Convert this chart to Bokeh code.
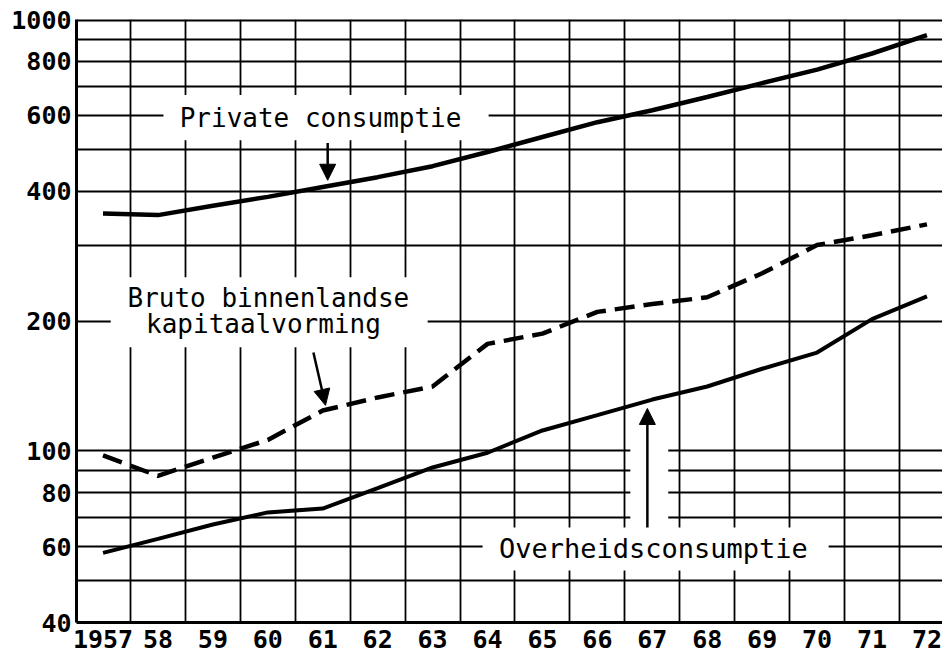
from bokeh.plotting import figure
from bokeh.models import FixedTicker, Label, Arrow, NormalHead, Range1d, Span
from bokeh.embed import file_html
from bokeh.resources import INLINE

# ---- data ----
years = list(range(1957, 1973))
private = [355, 352, 370, 388, 409, 431, 457, 493, 534, 578, 616, 661, 712, 765, 834, 920]
bruto = [97.6, 87.5, 96.5, 106, 124, 133, 141, 177, 187, 210, 219, 227, 258, 300, 316, 335]
overheid = [58, 62.5, 67.5, 72, 73.5, 82, 91.5, 99, 111.5, 121, 131.5, 141, 155, 169, 202, 228]

year_labels = ["1957"] + [str(y)[2:] for y in years[1:]]
y_label_ticks = [40, 60, 80, 100, 200, 400, 600, 800, 1000]
y_grid = [40, 50, 60, 70, 80, 90, 100, 200, 300, 400, 500, 600, 700, 800, 900, 1000]
x_grid = [y + 0.5 for y in years[:-1]]

FONT = "DejaVu Sans Mono"

p = figure(width=942, height=660, y_axis_type="log",
           x_range=Range1d(1956.517, 1972.283), y_range=Range1d(40, 1000),
           output_backend="svg", toolbar_location=None,
           min_border_left=76, min_border_right=0, min_border_top=19, min_border_bottom=38)

p.outline_line_color = None
p.background_fill_color = "white"

# grid
p.xgrid.ticker = FixedTicker(ticks=x_grid)
p.ygrid.ticker = FixedTicker(ticks=y_grid)
p.xgrid.grid_line_color = "black"
p.xgrid.grid_line_width = 1.8
p.ygrid.grid_line_color = "black"
p.ygrid.grid_line_width = 2.2
p.xgrid.grid_line_alpha = 1
p.ygrid.grid_line_alpha = 1

# axes
p.xaxis.ticker = FixedTicker(ticks=years)
p.xaxis.major_label_overrides = {y: l for y, l in zip(years, year_labels)}
p.yaxis.ticker = FixedTicker(ticks=y_label_ticks)
p.yaxis.major_label_overrides = {v: str(v) for v in y_label_ticks}
for ax in (p.xaxis, p.yaxis):
    ax.axis_line_width = 3
    ax.axis_line_color = "black"
    ax.major_tick_line_color = None
    ax.minor_tick_line_color = None
    ax.major_tick_out = 0
    ax.major_tick_in = 0
    ax.minor_tick_out = 0
    ax.minor_tick_in = 0
    ax.major_label_text_font = FONT
    ax.major_label_text_color = "black"
    ax.major_label_text_font_style = "bold"
p.xaxis.major_label_text_font_size = "25px"
p.xaxis.major_label_standoff = 7
p.yaxis.major_label_text_font_size = "25px"
p.yaxis.major_label_standoff = 5

p.add_layout(Span(location=1000, dimension="width", line_color="black", line_width=4))

# white gaps in the grid behind the labels and arrow
gap_left = [1958.10, 1957.14, 1963.91, 1966.60]
gap_right = [1964.02, 1962.91, 1970.21, 1967.29]
gap_bottom = [525, 173.9, 52.8, 64]
gap_top = [668, 252.6, 66.4, 105.7]
p.quad(left=gap_left, right=gap_right, bottom=gap_bottom, top=gap_top,
       fill_color="white", line_color=None)

# series
p.line(years, private, line_color="black", line_width=4.5)
p.line(years, overheid, line_color="black", line_width=4)
p.line(years, bruto, line_color="black", line_width=4.5, line_dash="20 9")

# labels
def lab(x, y, t, size="26px"):
    p.add_layout(Label(x=x, y=y, text=t, text_align="center", text_baseline="middle",
                       text_font=FONT, text_font_size=size, text_color="black"))

lab(1960.96, 591, "Private consumptie")
lab(1960.01, 225.8, "Bruto binnenlandse")
lab(1959.92, 196.6, "kapitaalvorming")
lab(1967.02, 59.4, "Overheidsconsumptie", "27px")

# arrows
def arr(x0, y0, x1, y1):
    p.add_layout(Arrow(end=NormalHead(size=16, fill_color="black", line_color="black"),
                       x_start=x0, y_start=y0, x_end=x1, y_end=y1,
                       line_width=2.5, line_color="black"))

arr(1961.09, 517, 1961.09, 424)
arr(1960.83, 169, 1961.05, 127.5)
arr(1966.91, 66.4, 1966.91, 125.4)

open("out.html", "w").write(file_html(p, INLINE))
